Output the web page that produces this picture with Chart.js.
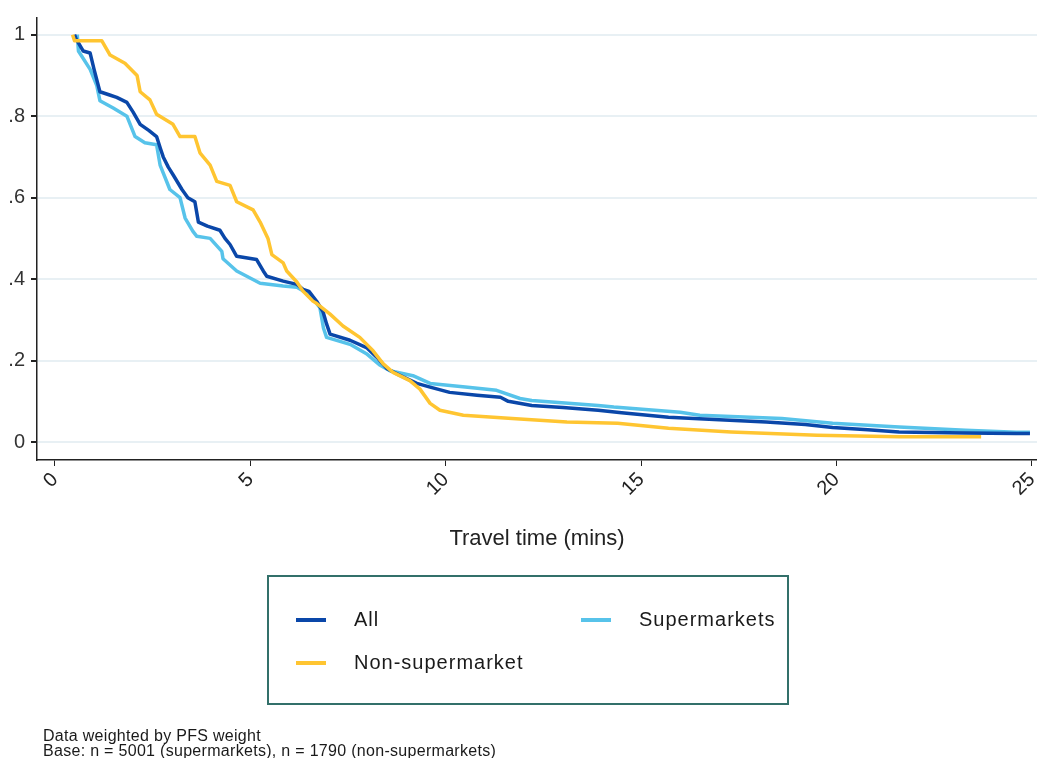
<!DOCTYPE html>
<html>
  <head>
    <script src="https://cdn.jsdelivr.net/npm/chart.js@4/dist/chart.umd.min.js"></script>
    <style>
      html, body { margin: 0; background: #fff; }
    </style>
  </head>

  <body>
    <canvas id="canvas" width="1037" height="758"></canvas>
    <script>
      // travel time (mins) at each step and share of population still further away
      const allTime = [0.5, 0.54, 0.72, 0.9, 1.0, 1.15, 1.4, 1.58, 1.84, 2.0, 2.18, 2.4, 2.6, 2.7, 2.77, 2.9, 3.03, 3.25, 3.4, 3.58, 3.67, 3.9, 4.22, 4.35, 4.48, 4.65, 5.16, 5.33, 5.42, 5.84, 6.19, 6.35, 6.5, 6.7, 6.86, 6.95, 7.04, 7.55, 7.97, 8.24, 8.5, 8.8, 9.26, 9.6, 10.1, 10.8, 11.4, 11.6, 12.2, 13.0, 13.9, 14.5, 15.7, 17.0, 18.2, 19.2, 19.9, 20.8, 21.6, 23.3, 24.6, 24.95];
      const allSurv = [1.0, 0.99, 0.96, 0.955, 0.915, 0.86, 0.852, 0.846, 0.834, 0.81, 0.78, 0.765, 0.75, 0.72, 0.70, 0.675, 0.655, 0.62, 0.60, 0.59, 0.54, 0.53, 0.52, 0.50, 0.485, 0.456, 0.448, 0.42, 0.407, 0.395, 0.387, 0.375, 0.37, 0.345, 0.32, 0.29, 0.265, 0.25, 0.232, 0.208, 0.18, 0.165, 0.144, 0.135, 0.122, 0.115, 0.11, 0.10, 0.09, 0.085, 0.078, 0.072, 0.061, 0.055, 0.049, 0.043, 0.036, 0.030, 0.025, 0.022, 0.021, 0.021];

      const superTime = [0.57, 0.6, 0.9, 1.07, 1.15, 1.49, 1.84, 2.05, 2.3, 2.6, 2.69, 2.94, 3.2, 3.33, 3.53, 3.63, 3.97, 4.27, 4.3, 4.65, 5.25, 5.84, 6.19, 6.5, 6.7, 6.78, 6.87, 6.95, 7.55, 7.97, 8.3, 8.57, 9.16, 9.6, 10.5, 11.3, 11.9, 12.2, 13.9, 14.3, 16.0, 16.5, 18.6, 19.9, 21.6, 23.3, 24.6, 24.95];
      const superSurv = [1.0, 0.96, 0.915, 0.875, 0.838, 0.82, 0.80, 0.75, 0.735, 0.73, 0.68, 0.62, 0.60, 0.55, 0.517, 0.505, 0.50, 0.468, 0.45, 0.42, 0.39, 0.383, 0.38, 0.363, 0.34, 0.33, 0.28, 0.257, 0.24, 0.217, 0.19, 0.175, 0.163, 0.144, 0.135, 0.127, 0.107, 0.102, 0.09, 0.086, 0.073, 0.066, 0.058, 0.046, 0.037, 0.029, 0.024, 0.024];

      const nonTime = [0.45, 0.5, 1.2, 1.41, 1.79, 2.1, 2.18, 2.43, 2.6, 3.02, 3.2, 3.58, 3.71, 3.97, 4.14, 4.48, 4.65, 5.07, 5.25, 5.45, 5.55, 5.84, 5.93, 6.19, 6.35, 6.6, 6.7, 7.04, 7.37, 7.8, 8.14, 8.4, 8.65, 9.08, 9.34, 9.6, 9.85, 10.45, 11.7, 13.1, 14.4, 15.7, 17.3, 19.5, 21.6, 23.7];
      const nonSurv = [1.0, 0.985, 0.985, 0.95, 0.93, 0.90, 0.86, 0.84, 0.805, 0.78, 0.75, 0.75, 0.71, 0.68, 0.64, 0.63, 0.59, 0.57, 0.54, 0.50, 0.46, 0.44, 0.42, 0.393, 0.37, 0.346, 0.34, 0.314, 0.285, 0.257, 0.224, 0.192, 0.171, 0.151, 0.13, 0.095, 0.078, 0.066, 0.058, 0.049, 0.046, 0.034, 0.025, 0.017, 0.013, 0.013];

      const seriesNames = ['All', 'Supermarkets', 'Non-supermarket'];
      const seriesColors = ['#0a47a9', '#57c3ea', '#ffc531'];
      const yTickLabels = { 0: '0', 0.2: '.2', 0.4: '.4', 0.6: '.6', 0.8: '.8', 1: '1' };
      const footnotes = ['Data weighted by PFS weight', 'Base: n = 5001 (supermarkets), n = 1790 (non-supermarkets)'];

      const FONT = '"Liberation Sans", Arial, sans-serif';
      const pts = (xs, ys) => xs.map((x, i) => ({ x: x, y: ys[i] }));

      // boxed two-column legend plus the source notes underneath
      const boxLegend = {
        id: 'boxLegend',
        afterDraw(chart) {
          const ctx = chart.ctx;
          ctx.save();
          ctx.strokeStyle = '#33706a';
          ctx.lineWidth = 2;
          ctx.strokeRect(268, 576, 520, 128);

          const slots = [[296, 620], [581, 620], [296, 663]];
          ctx.font = '20px ' + FONT;
          ctx.letterSpacing = '1px';
          ctx.textBaseline = 'middle';
          ctx.fillStyle = '#1a1a1a';
          chart.data.datasets.forEach((ds, i) => {
            const [lx, ly] = slots[i];
            ctx.strokeStyle = ds.borderColor;
            ctx.lineWidth = 4;
            ctx.beginPath();
            ctx.moveTo(lx, ly);
            ctx.lineTo(lx + 30, ly);
            ctx.stroke();
            ctx.fillText(ds.label, lx + 58, ly);
          });

          ctx.font = '16px ' + FONT;
          ctx.letterSpacing = '0.3px';
          ctx.textBaseline = 'alphabetic';
          ctx.fillText(footnotes[0], 43, 741);
          ctx.fillText(footnotes[1], 43, 756);
          ctx.restore();
        },
      };

      const chart = new Chart(document.getElementById('canvas').getContext('2d'), {
        type: 'line',
        data: {
          datasets: [
            { label: seriesNames[0], data: pts(allTime, allSurv), borderColor: seriesColors[0], order: 1 },
            { label: seriesNames[1], data: pts(superTime, superSurv), borderColor: seriesColors[1], order: 2 },
            { label: seriesNames[2], data: pts(nonTime, nonSurv), borderColor: seriesColors[2], order: 0 },
          ],
        },
        options: {
          responsive: false,
          animation: false,
          parsing: false,
          elements: {
            line: { borderWidth: 3.5, fill: false, tension: 0, borderJoinStyle: 'round' },
            point: { radius: 0 },
          },
          layout: {
            padding: { top: 15, left: 0, right: 0, bottom: 206 },
          },
          plugins: {
            legend: { display: false },
            tooltip: { enabled: false },
          },
          scales: {
            x: {
              type: 'linear',
              min: -0.46,
              max: 25.13,
              afterFit: (s) => { s.height = 92; s.paddingLeft = 0; s.paddingRight = 0; },
              border: { color: '#222', width: 1.5 },
              grid: { drawOnChartArea: false, tickColor: '#222', tickLength: 6 },
              ticks: {
                stepSize: 5,
                includeBounds: false,
                autoSkip: false,
                minRotation: 45,
                maxRotation: 45,
                padding: 2,
                color: '#222',
                font: { family: FONT, size: 20 },
              },
              title: {
                display: true,
                text: 'Travel time (mins)',
                color: '#222',
                font: { family: FONT, size: 22 },
                padding: 0,
              },
            },
            y: {
              type: 'linear',
              min: -0.044,
              max: 1.041,
              afterFit: (s) => { s.width = 37; },
              border: { color: '#222', width: 1.5 },
              grid: { color: '#e8f0f4', lineWidth: 2, tickColor: '#222', tickLength: 6 },
              ticks: {
                stepSize: 0.2,
                includeBounds: false,
                padding: 6,
                color: '#333',
                font: { family: FONT, size: 20 },
                callback: (v) => yTickLabels[Math.round(v * 10) / 10],
              },
            },
          },
        },
        plugins: [boxLegend],
      });
    </script>
  </body>
</html>
